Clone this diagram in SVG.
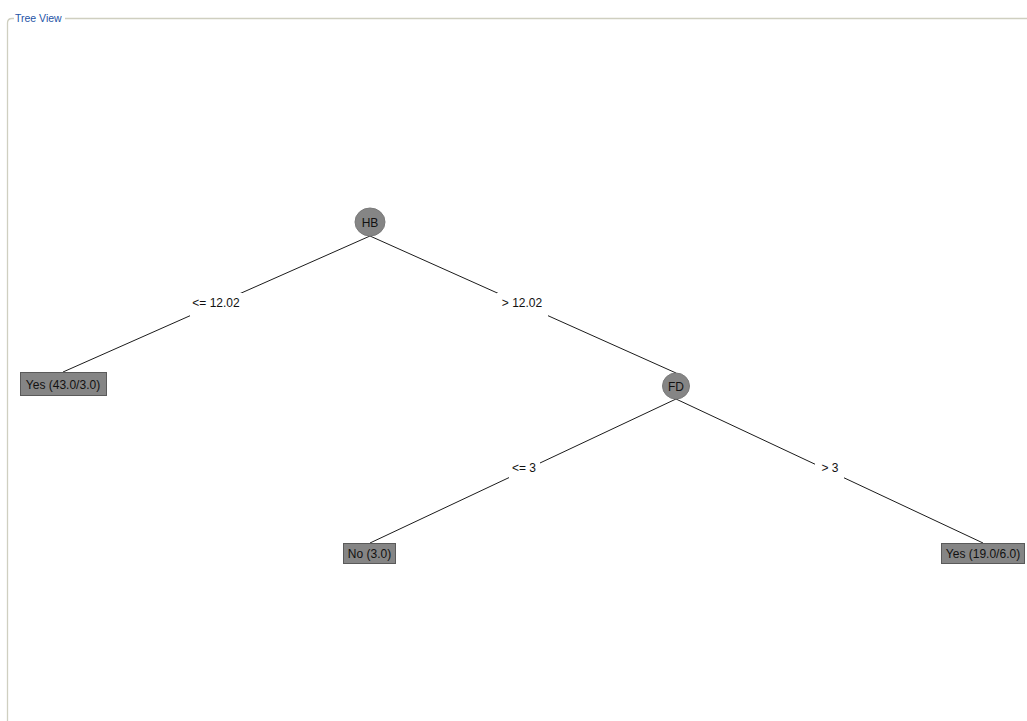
<svg xmlns="http://www.w3.org/2000/svg" width="1027" height="721" viewBox="0 0 1027 721">
<style>
text{font-family:"Liberation Sans",Arial,sans-serif;font-size:12px;fill:#111}
.title{font-size:10.5px;fill:#2553a6}
.frame{fill:none;stroke:#cfcfc0;stroke-width:1.3}
.edge{stroke:#000;stroke-width:0.9;fill:none}
.lbg{fill:#fff}
.inner{fill:#858585;stroke:#7a7a7a}
.leaf{fill:#858585;stroke:#5a5a5a;stroke-width:1}
</style>
<rect width="1027" height="721" fill="#fff"/>
<path class="frame" d="M7.5 721 V23 Q7.5 18.5 12 18.5 H14 M65 18.5 H1027"/>
<text class="title" x="15" y="22">Tree View</text>
<g id="connectors">
<line class="edge" x1="370" y1="236" x2="63" y2="372"/>
<line class="edge" x1="370" y1="236" x2="676" y2="373"/>
<line class="edge" x1="676" y1="399" x2="370" y2="543"/>
<line class="edge" x1="676" y1="399" x2="983" y2="543"/>
<rect class="lbg" x="190" y="293" width="53" height="23"/>
<rect class="lbg" x="497" y="293" width="51" height="23"/>
<rect class="lbg" x="509" y="459" width="31" height="21"/>
<rect class="lbg" x="815" y="459" width="29" height="21"/>
<text x="216" y="307" text-anchor="middle">&lt;= 12.02</text>
<text x="522" y="307" text-anchor="middle">&gt; 12.02</text>
<text x="524" y="472" text-anchor="middle">&lt;= 3</text>
<text x="830" y="472" text-anchor="middle">&gt; 3</text>
</g>
<g id="node-HB">
<ellipse class="inner" cx="370" cy="222" rx="15" ry="14"/>
<text x="370" y="226.5" text-anchor="middle">HB</text>
</g>
<g id="node-FD">
<ellipse class="inner" cx="676" cy="386" rx="13.5" ry="13"/>
<text x="676" y="390.5" text-anchor="middle">FD</text>
</g>
<g id="leaf-yes1">
<rect class="leaf" x="20.5" y="372.5" width="86" height="23"/>
<text x="63" y="388.5" text-anchor="middle">Yes (43.0/3.0)</text>
</g>
<g id="leaf-no">
<rect class="leaf" x="343.5" y="543.5" width="52" height="20"/>
<text x="369.5" y="558" text-anchor="middle">No (3.0)</text>
</g>
<g id="leaf-yes2">
<rect class="leaf" x="941.5" y="543.5" width="83" height="20"/>
<text x="983" y="558" text-anchor="middle">Yes (19.0/6.0)</text>
</g>
</svg>
